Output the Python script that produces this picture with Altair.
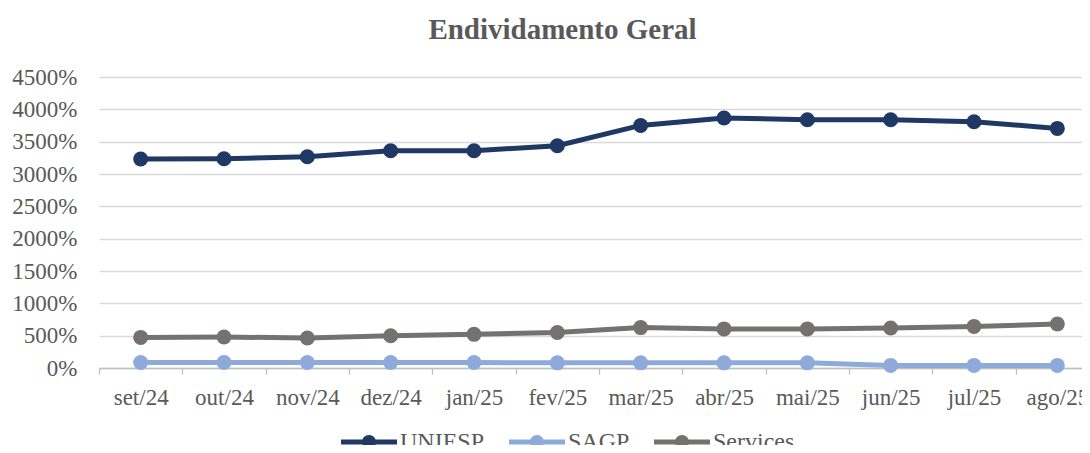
import altair as alt
import pandas as pd

months = ["set/24", "out/24", "nov/24", "dez/24", "jan/25", "fev/25",
          "mar/25", "abr/25", "mai/25", "jun/25", "jul/25", "ago/25"]
uniesp = [3232, 3236, 3267, 3360, 3360, 3437, 3751, 3866, 3840, 3840, 3809, 3705]
sagp = [85, 85, 85, 85, 85, 80, 80, 80, 80, 40, 40, 40]
services = [473, 479, 464, 499, 520, 550, 625, 605, 605, 618, 643, 680]
series = ["UNIESP", "SAGP", "Services"]
colors = ["#1f3864", "#8eaadb", "#767171"]
y_ticks = [0, 500, 1000, 1500, 2000, 2500, 3000, 3500, 4000, 4500]

rows = []
for name, vals in zip(series, [uniesp, sagp, services]):
    for m, v in zip(months, vals):
        rows.append({"mes": m, "serie": name, "valor": v})
df = pd.DataFrame(rows)

FONT = "'Liberation Serif', 'Times New Roman', serif"
TXT = "#595959"
W = 983          # visible plot width (chart is cut at the right edge)
RANGE = 1000     # full category span, extends past the visible area
step = RANGE / len(months)

x = alt.X("mes:N", sort=months, title=None,
          scale=alt.Scale(type="point", padding=0.5, range=[0, RANGE]),
          axis=alt.Axis(labelAngle=0, tickSize=6, tickOffset=-step / 2,
                        labelOffset=step / 2,
                        tickColor="#bfbfbf", tickWidth=1.3,
                        domainColor="#bfbfbf", domainWidth=1.3,
                        labelFont=FONT, labelFontSize=23, labelColor=TXT,
                        labelPadding=12, grid=False))
y = alt.Y("valor:Q", title=None,
          scale=alt.Scale(domain=[0, 4500], nice=False),
          axis=alt.Axis(values=y_ticks, labelExpr="datum.value + '%'",
                        ticks=False, domain=False, grid=True,
                        gridColor="#d9d9d9", gridWidth=1.3,
                        labelFont=FONT, labelFontSize=23, labelColor=TXT,
                        labelPadding=22))
color_scale = alt.Scale(domain=series, range=colors)

sym = ("M-1,-0.09L1,-0.09L1,0.09L-1,0.09Z "
       "M0.25,0A0.25,0.25,0,1,1,-0.25,0A0.25,0.25,0,1,1,0.25,0Z")

lines = alt.Chart(df).mark_line(strokeWidth=5).encode(
    x=x, y=y,
    color=alt.Color("serie:N", scale=color_scale, legend=None),
    detail="serie:N",
)
points = alt.Chart(df).mark_point(filled=True, size=225, opacity=1).encode(
    x=x, y=y,
    color=alt.Color("serie:N", scale=color_scale,
                    legend=alt.Legend(title=None, orient="none",
                                      legendX=242, legendY=337,
                                      direction="horizontal",
                                      symbolType=sym, symbolSize=3136,
                                      symbolStrokeWidth=0,
                                      labelFont=FONT, labelFontSize=24,
                                      labelColor=TXT, labelOffset=3,
                                      columnPadding=24)),
)

chart = alt.layer(lines, points).resolve_legend(color="independent").properties(
    width=W, height=291,
    title=alt.TitleParams("Endividamento Geral", font=FONT, fontSize=29,
                          fontWeight="bold", color=TXT, anchor="middle",
                          dx=-28, offset=21),
    autosize=alt.AutoSizeParams(type="none"),
    padding={"left": 91, "top": 69, "right": 0, "bottom": 77},
    background="white",
).configure_view(stroke=None)

chart.save("out.html", embed_options={"renderer": "svg", "actions": False})
